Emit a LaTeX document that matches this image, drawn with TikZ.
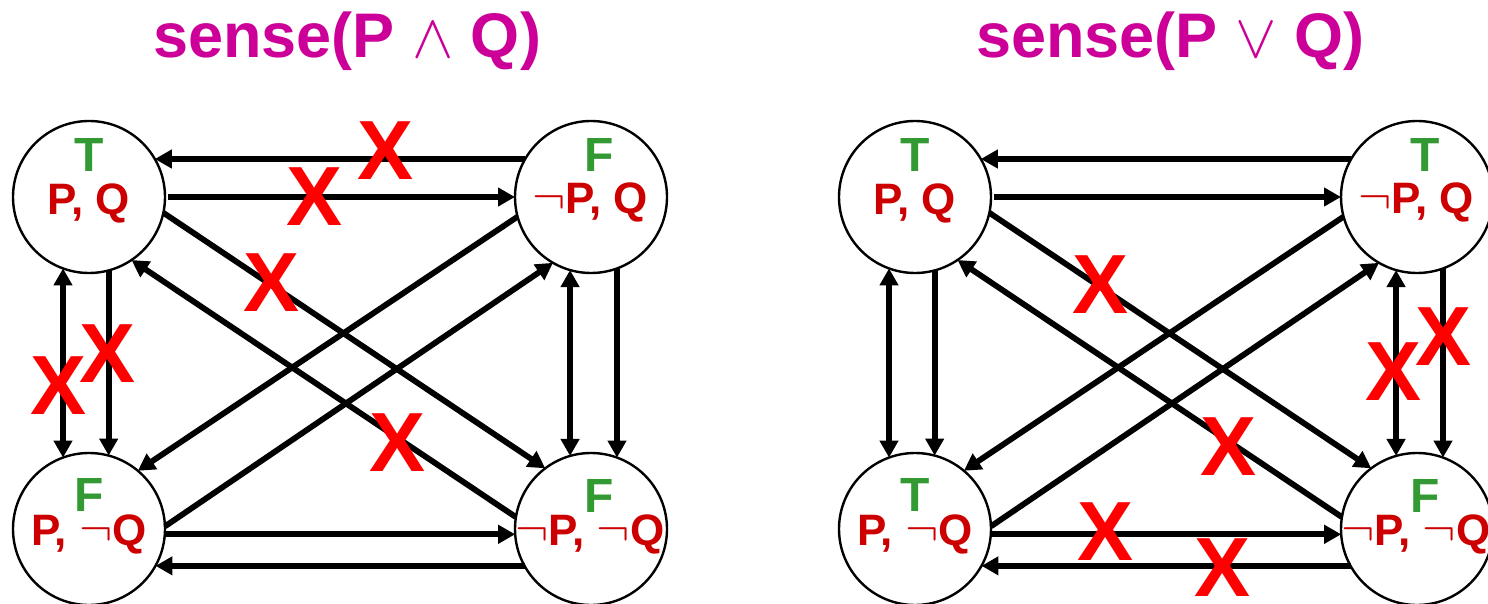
\documentclass[tikz,border=0pt]{standalone}
\usepackage{graphicx}
\usepackage{fontspec}
\setmainfont{Liberation Sans}
\usetikzlibrary{arrows.meta}

\definecolor{titlemag}{RGB}{204,0,153}
\definecolor{litred}{RGB}{204,0,0}
\definecolor{truthgreen}{RGB}{51,153,51}
\definecolor{crossred}{RGB}{255,0,0}

% thin logical symbols, scaled up from the 10pt math font
\newcommand\mathat[2]{\scalebox{#1}{\fontsize{10pt}{12pt}\selectfont$#2$}}
\newcommand\lgneg{\mathat{2.5}{\neg}}
\newcommand\lgand{\mathat{3.1}{\wedge}}
\newcommand\lgor{\mathat{3.1}{\vee}}

\tikzset{
  state/.style={circle, draw=black, line width=1.2pt, minimum size=76pt,
                inner sep=0pt, outer sep=0pt},
  truth/.style={anchor=base, inner sep=0pt, text=truthgreen,
                font=\fontsize{24pt}{28pt}\selectfont\bfseries},
  lits/.style={anchor=base, inner sep=0pt, text=litred,
               font=\fontsize{22pt}{26pt}\selectfont\bfseries},
  heading/.style={anchor=base, inner sep=0pt, text=titlemag,
                  font=\fontsize{31.5pt}{36pt}\selectfont\bfseries},
  cross/.style={inner sep=0pt, text=crossred,
                font=\fontsize{42pt}{48pt}\selectfont\bfseries},
  arr/.style={line width=2.9pt, -{Triangle[length=8.5pt,width=9pt]}},
  arrboth/.style={line width=2.9pt,
                  {Triangle[length=8.5pt,width=9pt]}-{Triangle[length=8.5pt,width=9pt]}},
  % four states of P and Q with the transitions between them
  pics/fourstate/.style n args={4}{code={
    \node[state] (-tl) at (0,0) {};
    \node[state] (-tr) at (502,0) {};
    \node[state] (-bl) at (0,332) {};
    \node[state] (-br) at (502,332) {};
    \node[truth] (-tlv) at (0,-25) {#1};
    \node[lits]  (-tll) at (0,18) {P, Q};
    \node[truth] (-trv) at (510,-25) {#2};
    \node[lits]  (-trl) at (501,16.5) {\lgneg P, Q};
    \node[truth] (-blv) at (0,314.5) {#3};
    \node[lits]  (-bll) at (0,348) {P, \lgneg Q};
    \node[truth] (-brv) at (510,315) {#4};
    \node[lits]  (-brl) at (501,348) {\lgneg P, \lgneg Q};
    % horizontal transitions
    \draw[arr] (-tr.150) -- (-tl.30);
    \draw[arr, shorten <=1.5pt] (-tl.0) -- (-tr.180);
    \draw[arr] (-bl.-4) -- (-br.184);
    \draw[arr] (-br.209) -- (-bl.-29);
    % vertical transitions
    \draw[arrboth] (-tl.250) -- (-bl.110);
    \draw[arr] (-tl.-75) -- (-bl.75);
    \draw[arrboth] (-tr.-106) -- (-br.106);
    \draw[arr] (-tr.-70) -- (-br.70);
    % diagonal transitions
    \draw[arr] (-tl.-12) -- (-br.127);
    \draw[arr] (-br.171) -- (-tl.-56);
    \draw[arr] (-tr.195) -- (-bl.50);
    \draw[arr] (-bl.2) -- (-tr.240);
  }}
}

\begin{document}
\begin{tikzpicture}[x=0.5pt, y=-0.5pt]
  \useasboundingbox (0,0) rectangle (1488,604);

  % conjunction
  \node[heading] (andtitle) at (347,58) {sense(P \lgand{} Q)};
  \pic (A) at (89,197) {fourstate={T}{F}{F}{F}};
  \node[cross] (ax1) at (386,151) {X};
  \node[cross] (ax2) at (315,197) {X};
  \node[cross] (ax3) at (272,283) {X};
  \node[cross] (ax4) at (59,386) {X};
  \node[cross] (ax5) at (108,354) {X};
  \node[cross] (ax6) at (398,443) {X};

  % disjunction
  \node[heading] (ortitle) at (1170,58) {sense(P \lgor{} Q)};
  \pic (O) at (915,197) {fourstate={T}{T}{T}{F}};
  \node[cross] (ox1) at (1100,285) {X};
  \node[cross] (ox2) at (1393,372) {X};
  \node[cross] (ox3) at (1443,337) {X};
  \node[cross] (ox4) at (1228,447) {X};
  \node[cross] (ox5) at (1105,532) {X};
  \node[cross] (ox6) at (1222,568) {X};
\end{tikzpicture}
\end{document}
